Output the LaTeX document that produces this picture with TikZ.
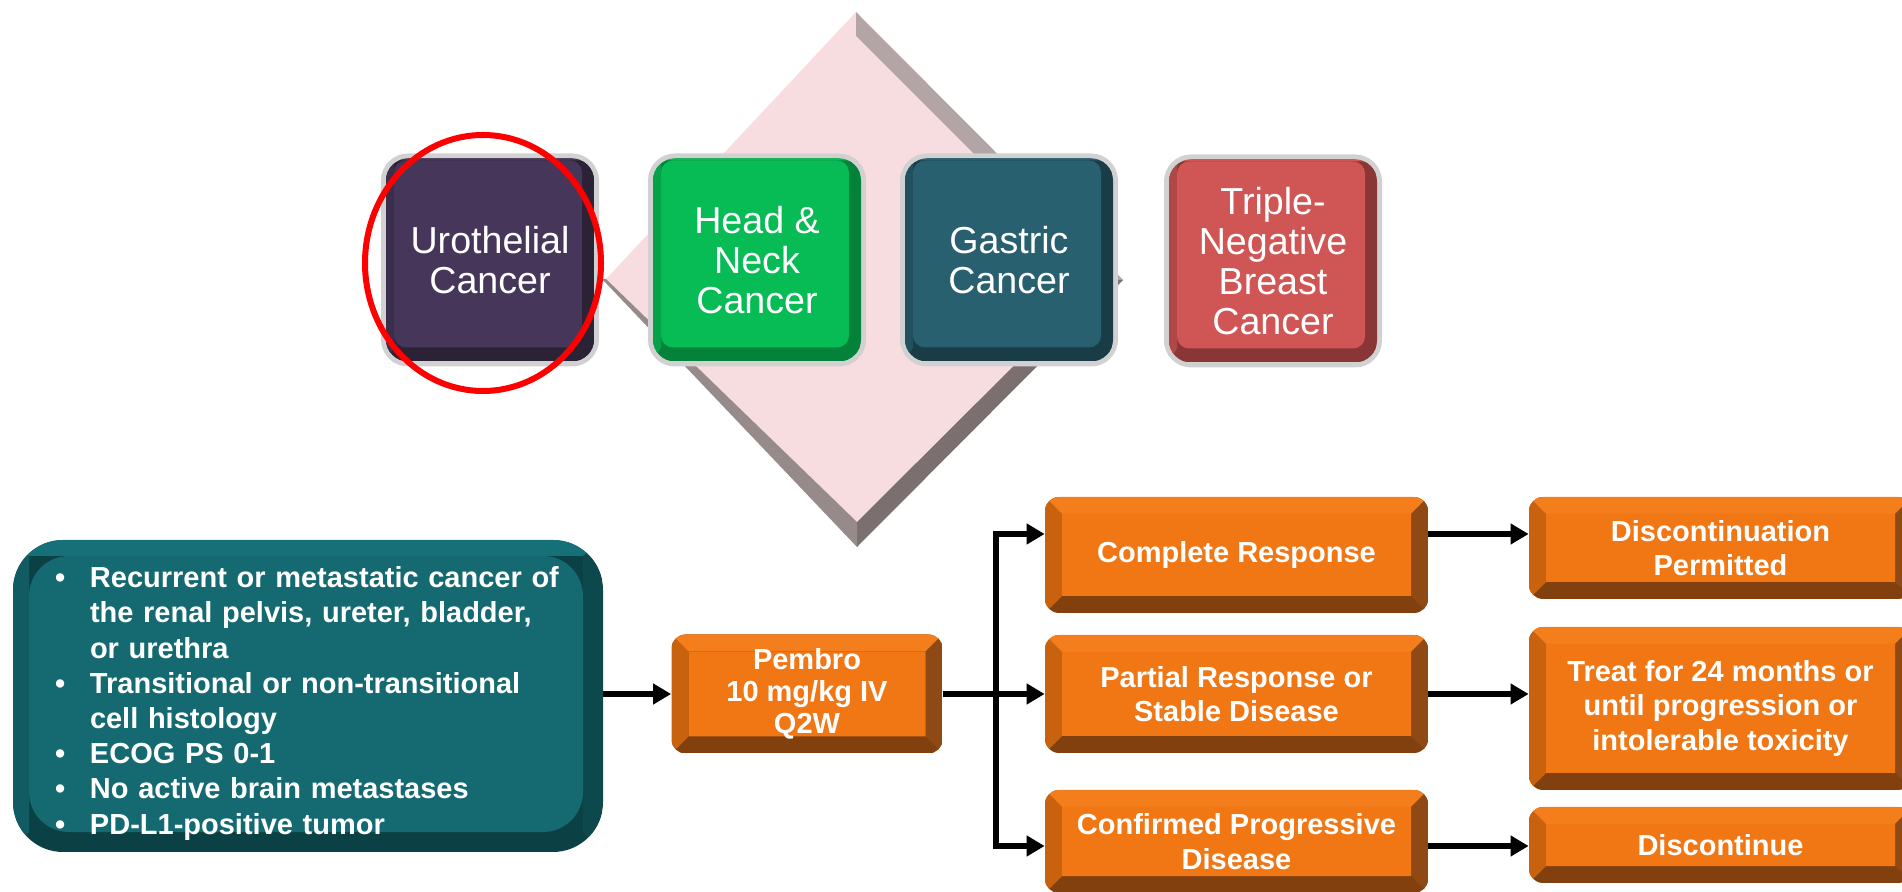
\documentclass[tikz,border=0pt]{standalone}
\usepackage{fontspec}
\setmainfont{Liberation Sans}
\usepackage{tikz}
\usetikzlibrary{calc}
\usetikzlibrary{arrows.meta}

% tumour boxes
\definecolor{uroface}{HTML}{46375A}
\definecolor{urodark}{HTML}{2C2236}
\definecolor{hnface}{HTML}{07BB55}
\definecolor{hndark}{HTML}{04823A}
\definecolor{gcface}{HTML}{286070}
\definecolor{gcdark}{HTML}{1A3C47}
\definecolor{tnface}{HTML}{D05656}
\definecolor{tndark}{HTML}{8A3636}
% orange flow boxes
\definecolor{orface}{HTML}{F17614}
\definecolor{ortop}{HTML}{F47E1B}
\definecolor{orleft}{HTML}{C8620F}
\definecolor{orright}{HTML}{8E4915}
\definecolor{orbot}{HTML}{82400F}
% eligibility box
\definecolor{tlface}{HTML}{146A70}
\definecolor{tltop}{HTML}{167077}
\definecolor{tlleft}{HTML}{105C62}
\definecolor{tlright}{HTML}{0D484D}
\definecolor{tlbot}{HTML}{0B4045}
% diamond
\definecolor{dpink}{HTML}{F8DDE0}
\definecolor{dband1}{HTML}{B3A4A6}
\definecolor{dband2}{HTML}{7C6F70}
\definecolor{dband3}{HTML}{978A8B}

\newcommand{\critbul}{\makebox[17.5pt][l]{\textbullet}}
\newcommand{\critind}{\hspace*{17.5pt}}

\tikzset{
  bvl/.store in=\bvl, bvt/.store in=\bvt, bvr/.store in=\bvr, bvb/.store in=\bvb,
  bvface/.store in=\bvfacec, bvleft/.store in=\bvleftc, bvtop/.store in=\bvtopc,
  bvright/.store in=\bvrightc, bvbot/.store in=\bvbotc, bvfr/.store in=\bvfr,
  bevbox/.style={rectangle, inner sep=0pt, text=white,
    path picture={
      \coordinate (bA) at (path picture bounding box.south west);
      \coordinate (bC) at (path picture bounding box.north east);
      \coordinate (bB) at (bA |- bC);
      \coordinate (bD) at (bC |- bA);
      \begin{scope}[sharp corners]
        \fill[\bvbotc] (bA) rectangle (bC);
        \fill[\bvleftc] (bA) -- (bB) -- ($(bB)+(\bvl,-\bvt)$) -- ($(bA)+(\bvl,\bvb)$) -- cycle;
        \fill[\bvtopc] (bB) -- (bC) -- ($(bC)+(-\bvr,-\bvt)$) -- ($(bB)+(\bvl,-\bvt)$) -- cycle;
        \fill[\bvrightc] (bC) -- (bD) -- ($(bD)+(-\bvr,\bvb)$) -- ($(bC)+(-\bvr,-\bvt)$) -- cycle;
      \end{scope}
      \fill[\bvfacec, rounded corners=\bvfr] ($(bA)+(\bvl,\bvb)$) rectangle ($(bC)+(-\bvr,-\bvt)$);
    }},
  cancer/.style 2 args={bevbox, rounded corners=11pt,
    minimum width=104pt, minimum height=101.5pt, align=center,
    font=\fontsize{18.8pt}{20pt}\selectfont,
    preaction={draw=black!18, line width=5pt},
    bvl=4pt, bvt=1pt, bvr=6pt, bvb=7pt, bvfr=6pt,
    bvface=#1, bvleft=#2!45!#1, bvtop=#1, bvright=#2, bvbot=#2},
  resp/.style={bevbox, rounded corners=7pt, minimum width=191.5pt, align=center,
    font=\fontsize{14.5pt}{17.3pt}\selectfont\bfseries,
    bvl=8.5pt, bvt=8.5pt, bvr=8.5pt, bvb=8.5pt, bvfr=0.01pt,
    bvface=orface, bvleft=orleft, bvtop=ortop, bvright=orright, bvbot=orbot},
  crit/.style={bevbox, rounded corners=25pt, minimum width=295pt, minimum height=156pt,
    text width=253pt, align=left,
    font=\fontsize{14.5pt}{17.6pt}\selectfont\bfseries,
    bvl=8pt, bvt=8pt, bvr=10pt, bvb=10pt, bvfr=20pt,
    bvface=tlface, bvleft=tlleft, bvtop=tltop, bvright=tlright, bvbot=tlbot},
  arr/.style={line width=3pt, line join=miter, -{Triangle[length=9pt, width=10pt]}}
}

\begin{document}
\begin{tikzpicture}[x=0.5pt, y=-0.5pt]
    \useasboundingbox (0,0) rectangle (1902,892);
    % diamond behind the tumour types
    \fill[dpink] (856,12) -- (856,36) -- (1100,280) -- (857,522) -- (606,279) -- cycle;
    \fill[dband1] (856,12) -- (1123,280) -- (1100,280) -- (856,36) -- cycle;
    \fill[dband2] (1100,280) -- (1123,280) -- (857,547) -- (857,522) -- cycle;
    \fill[dband3] (602,279) -- (606,279) -- (857,522) -- (857,547) -- cycle;
    % tumour types
    \node[cancer={uroface}{urodark}] (1) at (490, 260) {Urothelial\\Cancer};
    \node[cancer={hnface}{hndark}]   (2) at (757, 260) {Head \&\\Neck\\Cancer};
    \node[cancer={gcface}{gcdark}]   (3) at (1009, 260) {Gastric\\Cancer};
    \node[cancer={tnface}{tndark}]   (4) at (1273, 261) {Triple-\\Negative\\Breast\\Cancer};
    \draw[red, line width=3pt] (483, 263) ellipse [x radius=59pt, y radius=64pt];
    % eligibility and treatment
    \node[crit] (5) at (308, 696) {%
      \rule{0pt}{18pt}\critbul Recurrent or metastatic cancer of\\
      \critind the renal pelvis, ureter, bladder,\\
      \critind or urethra\\
      \critbul Transitional or non-transitional\\
      \critind cell histology\\
      \critbul ECOG PS 0-1\\
      \critbul No active brain metastases\\
      \critbul PD-L1-positive tumor};
    \node[resp, minimum width=135.5pt, minimum height=59.5pt,
          font=\fontsize{14.5pt}{16pt}\selectfont\bfseries] (6) at (807, 694) {Pembro\\10 mg/kg IV\\Q2W};
    % responses
    \node[resp, minimum height=58pt]   (7) at (1236.5, 555) {Complete Response};
    \node[resp, minimum height=59pt]   (8) at (1236.5, 694) {Partial Response or\\Stable Disease};
    \node[resp, minimum height=51.5pt] (9) at (1236.5, 841.5) {Confirmed Progressive\\Disease};
    % what follows
    \node[resp, minimum height=51pt]   (10) at (1720.5, 548) {Discontinuation\\Permitted};
    \node[resp, minimum height=81.5pt] (11) at (1720.5, 708.5) {Treat for 24 months or\\until progression or\\intolerable toxicity};
    \node[resp, minimum height=38pt]   (12) at (1720.5, 845) {Discontinue};
    % arrows
    \coordinate (13) at (996, 534);
    \coordinate (14) at (996, 846);
    \draw[arr] (5.east |- 6) to (6);
    \draw[arr] (6) to (8);
    \draw[arr] (6.east -| 13) -- (13) -- (13 -| 7.west);
    \draw[arr] (6.east -| 14) -- (14) -- (14 -| 9.west);
    \draw[arr] (13 -| 7.east) to (13 -| 10.west);
    \draw[arr] (8.east) to (8.east -| 11.west);
    \draw[arr] (14 -| 9.east) to (14 -| 12.west);
\end{tikzpicture}
\end{document}
